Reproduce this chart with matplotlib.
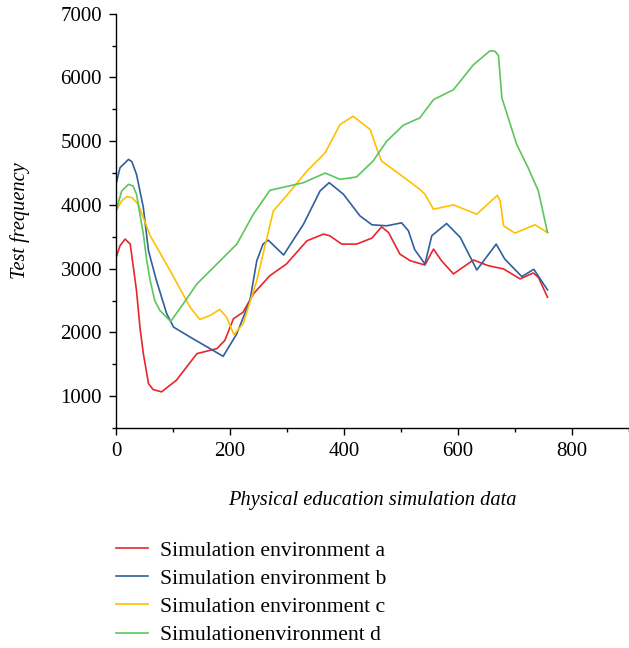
import matplotlib.pyplot as plt
from matplotlib.ticker import MultipleLocator

# Values
x_a = [0, 7, 16, 25, 36, 42, 48, 57, 65, 80, 106, 142, 177, 191, 206, 223, 241, 270, 299, 335,
       364, 375, 396, 422, 449, 466, 478, 498, 516, 542, 557, 571, 592, 627, 653, 680, 709,
       732, 741, 757]
y_a = [3170, 3359, 3464, 3385, 2656, 2083, 1667, 1198, 1104, 1067, 1250, 1667, 1745, 1875,
       2214, 2317, 2604, 2890, 3073, 3437, 3542, 3516, 3385, 3385, 3479, 3656, 3568, 3229,
       3125, 3057, 3307, 3125, 2917, 3136, 3047, 2995, 2839, 2932, 2864, 2552]

x_b = [0, 7, 22, 28, 36, 42, 48, 57, 71, 89, 101, 130, 165, 188, 212, 235, 247, 258, 267, 294,
       329, 358, 374, 399, 428, 449, 475, 501, 513, 524, 542, 554, 580, 604, 633, 667, 682,
       712, 733, 757]
y_b = [4323, 4583, 4714, 4677, 4479, 4219, 3958, 3281, 2813, 2292, 2083, 1927, 1745, 1625,
       1979, 2500, 3125, 3385, 3448, 3214, 3698, 4219, 4349, 4167, 3828, 3688, 3672, 3719,
       3594, 3300, 3073, 3516, 3708, 3490, 2979, 3385, 3151, 2875, 2990, 2667]

x_c = [0, 10, 19, 28, 39, 60, 95, 130, 147, 165, 182, 194, 207, 223, 247, 276, 299, 335, 367,
       393, 416, 446, 457, 466, 498, 533, 542, 557, 592, 633, 669, 674, 680, 700, 735, 757]
y_c = [3906, 4063, 4130, 4114, 4010, 3516, 2969, 2396, 2203, 2266, 2359, 2240, 1964, 2136,
       2813, 3906, 4141, 4531, 4818, 5260, 5391, 5182, 4896, 4688, 4479, 4245, 4167, 3932,
       4000, 3854, 4151, 4063, 3672, 3557, 3688, 3568]

x_d = [0, 10, 22, 30, 36, 48, 54, 60, 68, 77, 96, 118, 142, 177, 212, 241, 270, 329, 367, 393,
       422, 451, 475, 504, 533, 557, 592, 627, 656, 665, 671, 677, 703, 723, 741, 757]
y_d = [3906, 4219, 4323, 4297, 4167, 3542, 3125, 2813, 2500, 2344, 2172, 2448, 2761, 3073,
       3385, 3854, 4229, 4349, 4500, 4401, 4438, 4688, 5000, 5250, 5365, 5651, 5807, 6198,
       6417, 6410, 6344, 5677, 4948, 4583, 4219, 3568]

labels = ["Simulation environment a", "Simulation environment b",
          "Simulation environment c", "Simulationenvironment d"]
colors = ["#e8262b", "#2f5f9e", "#ffc000", "#5cc65c"]

plt.rcParams['font.family'] = ['Liberation Serif', 'DejaVu Serif']

fig = plt.figure(figsize=(6.29, 6.48), dpi=100)
ax = fig.add_axes([0.1844, 0.3395, 0.8156, 0.6394])

for xs, ys, c, lab in zip([x_a, x_b, x_c, x_d], [y_a, y_b, y_c, y_d], colors, labels):
    ax.plot(xs, ys, color=c, lw=1.2, label=lab)

ax.set_xlim(0, 900)
ax.set_ylim(500, 7000)
ax.xaxis.set_major_locator(MultipleLocator(200))
ax.xaxis.set_minor_locator(MultipleLocator(100))
ax.set_yticks(range(1000, 7001, 1000))
ax.yaxis.set_minor_locator(MultipleLocator(500))

for s in ['top', 'right']:
    ax.spines[s].set_visible(False)
for s in ['left', 'bottom']:
    ax.spines[s].set_linewidth(1.0)

ax.tick_params(which='major', direction='out', length=5, width=1, labelsize=15, pad=5)
ax.tick_params(which='minor', direction='out', length=3.2, width=1)

ax.set_ylabel('Test frequency', fontsize=14.7, style='italic', labelpad=22)
ax.set_xlabel('Physical education simulation data', fontsize=14.7, style='italic', labelpad=22)

# legend sits under the axes, no frame
handles, labs = ax.get_legend_handles_labels()
fig.legend(handles, labs, loc='upper left', bbox_to_anchor=(0.184, 0.166),
           frameon=False, fontsize=15.6, handlelength=1.5, handletextpad=0.55,
           labelspacing=0.37, borderpad=0, borderaxespad=0)

fig.savefig('out.png', dpi=100)
